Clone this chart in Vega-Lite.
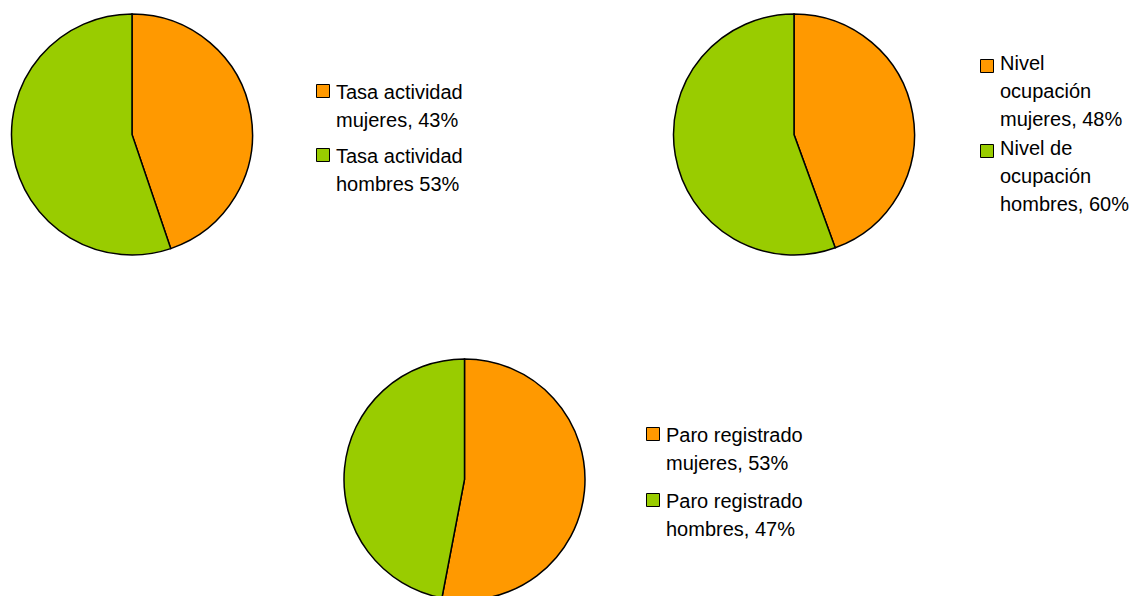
{
  "$schema": "https://vega.github.io/schema/vega-lite/v6.json",
  "padding": 0,
  "background": "white",
  "bounds": "flush",
  "spacing": 345,
  "config": {
    "view": {"stroke": null},
    "legend": {
      "labelFont": "Liberation Sans",
      "labelFontSize": 20,
      "labelColor": "black",
      "labelLimit": 400,
      "symbolType": "square",
      "symbolSize": 169,
      "symbolStrokeColor": "black",
      "symbolStrokeWidth": 1,
      "symbolOpacity": 1,
      "labelOffset": 3,
      "padding": 0,
      "labelBaseline": "top"
    }
  },
  "data": {
    "values": [
      {"grafico": "actividad", "categoria": "Tasa actividad\nmujeres, 43%", "sexo": "mujeres", "valor": 43},
      {"grafico": "actividad", "categoria": "Tasa actividad\nhombres 53%", "sexo": "hombres", "valor": 53},
      {"grafico": "ocupacion", "categoria": "Nivel\nocupación\nmujeres, 48%", "sexo": "mujeres", "valor": 48},
      {"grafico": "ocupacion", "categoria": "Nivel de\nocupación\nhombres, 60%", "sexo": "hombres", "valor": 60},
      {"grafico": "paro", "categoria": "Paro registrado\nmujeres, 53%", "sexo": "mujeres", "valor": 53},
      {"grafico": "paro", "categoria": "Paro registrado\nhombres, 47%", "sexo": "hombres", "valor": 47}
    ]
  },
  "resolve": {"scale": {"color": "independent"}, "legend": {"color": "independent"}},
  "vconcat": [
    {
      "bounds": "flush",
      "spacing": 398,
      "resolve": {"scale": {"color": "independent"}, "legend": {"color": "independent"}},
      "hconcat": [
        {
          "width": 264,
          "height": 269,
          "transform": [{"filter": "datum.grafico === 'actividad'"}],
          "mark": {"type": "arc", "outerRadius": 120.5, "stroke": "black", "strokeWidth": 1.5},
          "encoding": {
            "theta": {"field": "valor", "type": "quantitative", "stack": true},
            "order": {"field": "sexo", "sort": "descending"},
            "color": {
              "field": "categoria",
              "type": "nominal",
              "scale": {"domain": ["Tasa actividad\nmujeres, 43%", "Tasa actividad\nhombres 53%"], "range": ["#FF9900", "#99CC00"]},
              "legend": {
                "title": null,
                "orient": "none",
                "legendX": 313,
                "legendY": 81,
                "rowPadding": 14,
                "labelExpr": "split(datum.label, '\\n')",
                "encode": {"labels": {"update": {"lineHeight": {"value": 28}, "dy": {"value": -8}}}}
              }
            }
          }
        },
        {
          "width": 264,
          "height": 269,
          "transform": [{"filter": "datum.grafico === 'ocupacion'"}],
          "mark": {"type": "arc", "outerRadius": 120.5, "stroke": "black", "strokeWidth": 1.5},
          "encoding": {
            "theta": {"field": "valor", "type": "quantitative", "stack": true},
            "order": {"field": "sexo", "sort": "descending"},
            "color": {
              "field": "categoria",
              "type": "nominal",
              "scale": {"domain": ["Nivel\nocupación\nmujeres, 48%", "Nivel de\nocupación\nhombres, 60%"], "range": ["#FF9900", "#99CC00"]},
              "legend": {
                "title": null,
                "orient": "none",
                "legendX": 315,
                "legendY": 56,
                "rowPadding": 9,
                "labelExpr": "split(datum.label, '\\n')",
                "encode": {"labels": {"update": {"lineHeight": {"value": 28}, "dy": {"value": -12}}}}
              }
            }
          }
        }
      ]
    },
    {
      "width": 929,
      "height": 269,
      "transform": [{"filter": "datum.grafico === 'paro'"}],
      "mark": {"type": "arc", "outerRadius": 120.5, "stroke": "black", "strokeWidth": 1.5},
      "encoding": {
        "theta": {"field": "valor", "type": "quantitative", "stack": true},
        "order": {"field": "sexo", "sort": "descending"},
        "color": {
          "field": "categoria",
          "type": "nominal",
          "scale": {"domain": ["Paro registrado\nmujeres, 53%", "Paro registrado\nhombres, 47%"], "range": ["#FF9900", "#99CC00"]},
          "legend": {
            "title": null,
            "orient": "none",
            "legendX": 643,
            "legendY": 79,
            "rowPadding": 16,
            "labelExpr": "split(datum.label, '\\n')",
            "encode": {"labels": {"update": {"lineHeight": {"value": 28}, "dy": {"value": -8}}}}
          }
        }
      }
    }
  ]
}
